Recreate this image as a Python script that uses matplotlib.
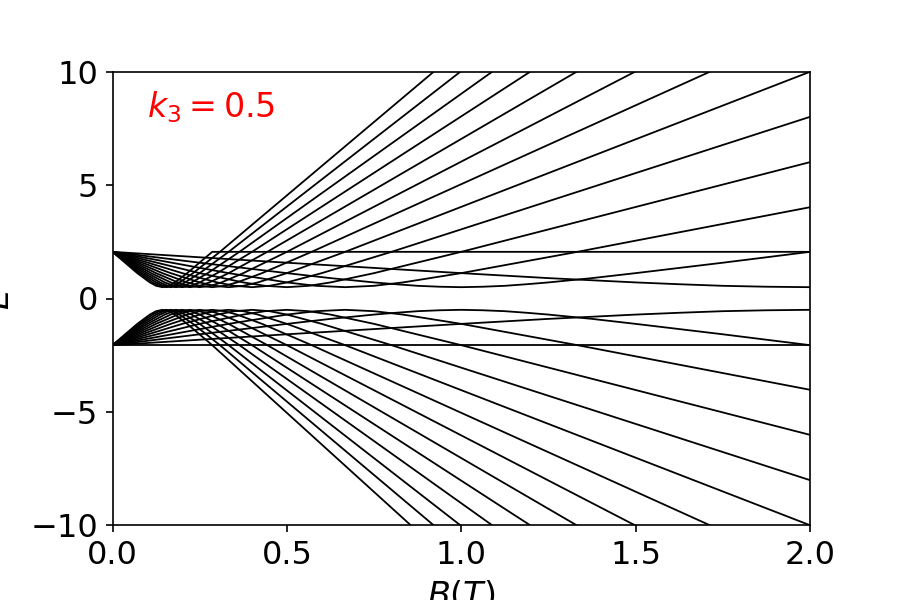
import matplotlib
matplotlib.use('Agg')
import matplotlib.pyplot as plt

# Landau-like levels: for each level n the upper (E>0)
# and lower (E<0) branch, given as (B, E) vertices.
levels = list(range(1, 15))

B_pts = {
    1:  [0.0, 0.25, 0.5, 0.75, 1.0, 1.25, 1.5, 1.625, 1.75, 1.875, 2.0],
    2:  [0.0, 0.25, 0.375, 0.5, 0.625, 0.75, 0.8125, 0.875, 0.9375, 1.0,
         1.0625, 1.125, 1.1875, 1.25, 1.375, 1.5, 1.625, 1.75, 2.0],
    3:  [0.0, 0.333, 0.5, 0.583, 0.667, 0.75, 0.833, 1.0, 1.333, 2.0],
    4:  [0.0, 0.25, 0.375, 0.4375, 0.5, 0.5625, 0.625, 0.75, 1.0, 2.0],
    5:  [0.0, 0.2, 0.3, 0.35, 0.4, 0.45, 0.5, 0.6, 0.8, 2.0],
    6:  [0.0, 0.167, 0.25, 0.292, 0.333, 0.375, 0.417, 0.5, 0.667, 2.0],
    7:  [0.0, 0.143, 0.214, 0.25, 0.286, 0.321, 0.357, 0.429, 0.571, 2.0],
    8:  [0.0, 0.125, 0.1875, 0.219, 0.25, 0.281, 0.3125, 0.375, 0.5, 2.0],
    9:  [0.0, 0.111, 0.167, 0.194, 0.222, 0.25, 0.278, 0.333, 0.444, 2.0],
    10: [0.0, 0.1, 0.15, 0.175, 0.2, 0.225, 0.25, 0.3, 0.4, 2.0],
    11: [0.0, 0.091, 0.136, 0.159, 0.182, 0.205, 0.227, 0.273, 0.364, 2.0],
    12: [0.0, 0.083, 0.125, 0.146, 0.167, 0.1875, 0.208, 0.25, 0.333, 2.0],
    13: [0.0, 0.077, 0.115, 0.135, 0.154, 0.173, 0.192, 0.231, 0.308, 2.0],
    14: [0.0, 0.071, 0.107, 0.125, 0.143, 0.161, 0.179, 0.214, 0.286, 2.0],
}

E_upper = {
    1:  [2.06, 1.82, 1.58, 1.35, 1.12, 0.90, 0.71, 0.63, 0.56, 0.52, 0.50],
    2:  [2.06, 1.58, 1.35, 1.12, 0.90, 0.71, 0.63, 0.56, 0.52, 0.50,
         0.52, 0.56, 0.63, 0.71, 0.90, 1.12, 1.35, 1.58, 2.06],
    3:  [2.06, 1.12, 0.71, 0.56, 0.50, 0.56, 0.71, 1.12, 2.06, 4.03],
    4:  [2.06, 1.12, 0.71, 0.56, 0.50, 0.56, 0.71, 1.12, 2.06, 6.02],
    5:  [2.06, 1.12, 0.71, 0.56, 0.50, 0.56, 0.71, 1.12, 2.06, 8.02],
    6:  [2.06, 1.12, 0.71, 0.56, 0.50, 0.56, 0.71, 1.12, 2.06, 10.01],
    7:  [2.06, 1.12, 0.71, 0.56, 0.50, 0.56, 0.71, 1.12, 2.06, 12.01],
    8:  [2.06, 1.12, 0.71, 0.56, 0.50, 0.56, 0.71, 1.12, 2.06, 14.01],
    9:  [2.06, 1.12, 0.71, 0.56, 0.50, 0.56, 0.71, 1.12, 2.06, 16.01],
    10: [2.06, 1.12, 0.71, 0.56, 0.50, 0.56, 0.71, 1.12, 2.06, 18.01],
    11: [2.06, 1.12, 0.71, 0.56, 0.50, 0.56, 0.71, 1.12, 2.06, 20.01],
    12: [2.06, 1.12, 0.71, 0.56, 0.50, 0.56, 0.71, 1.12, 2.06, 22.01],
    13: [2.06, 1.12, 0.71, 0.56, 0.50, 0.56, 0.71, 1.12, 2.06, 24.01],
    14: [2.06, 1.12, 0.71, 0.56, 0.50, 0.56, 0.71, 1.12, 2.06, 2.06],
}

E_lower = {
    1:  [-2.06, -1.82, -1.58, -1.35, -1.12, -0.90, -0.71, -0.63, -0.56, -0.52, -0.50],
    2:  [-2.06, -1.58, -1.35, -1.12, -0.90, -0.71, -0.63, -0.56, -0.52, -0.50,
         -0.52, -0.56, -0.63, -0.71, -0.90, -1.12, -1.35, -1.58, -2.06],
    3:  [-2.06, -1.12, -0.71, -0.56, -0.50, -0.56, -0.71, -1.12, -2.06, -4.03],
    4:  [-2.06, -1.12, -0.71, -0.56, -0.50, -0.56, -0.71, -1.12, -2.06, -6.02],
    5:  [-2.06, -1.12, -0.71, -0.56, -0.50, -0.56, -0.71, -1.12, -2.06, -8.02],
    6:  [-2.06, -1.12, -0.71, -0.56, -0.50, -0.56, -0.71, -1.12, -2.06, -10.01],
    7:  [-2.06, -1.12, -0.71, -0.56, -0.50, -0.56, -0.71, -1.12, -2.06, -12.01],
    8:  [-2.06, -1.12, -0.71, -0.56, -0.50, -0.56, -0.71, -1.12, -2.06, -14.01],
    9:  [-2.06, -1.12, -0.71, -0.56, -0.50, -0.56, -0.71, -1.12, -2.06, -16.01],
    10: [-2.06, -1.12, -0.71, -0.56, -0.50, -0.56, -0.71, -1.12, -2.06, -18.01],
    11: [-2.06, -1.12, -0.71, -0.56, -0.50, -0.56, -0.71, -1.12, -2.06, -20.01],
    12: [-2.06, -1.12, -0.71, -0.56, -0.50, -0.56, -0.71, -1.12, -2.06, -22.01],
    13: [-2.06, -1.12, -0.71, -0.56, -0.50, -0.56, -0.71, -1.12, -2.06, -24.01],
    14: [-2.06, -1.12, -0.71, -0.56, -0.50, -0.56, -0.71, -1.12, -2.06, -26.0],
}

# flat n=0 level
B_zero = [0.0, 2.0]
E_zero = [-2.06, -2.06]

k3 = 0.5

fig, ax = plt.subplots(figsize=(9, 6), dpi=100)
fig.subplots_adjust(left=0.125, right=0.9, top=0.88, bottom=0.125)

for n in levels:
    ax.plot(B_pts[n], E_upper[n], color='k', lw=1.3)
    ax.plot(B_pts[n], E_lower[n], color='k', lw=1.3)
ax.plot(B_zero, E_zero, color='k', lw=1.3)

ax.set_xlim(0, 2)
ax.set_ylim(-10, 10)
ax.set_xticks([0.0, 0.5, 1.0, 1.5, 2.0])
ax.set_yticks([-10, -5, 0, 5, 10])
ax.tick_params(labelsize=23, length=5.25, width=1.2, pad=5.25)
for sp in ax.spines.values():
    sp.set_linewidth(1.2)
# labels sit partly outside the canvas, as in the original figure
ax.set_xlabel('$B(T)$', fontsize=24, labelpad=6)
ax.set_ylabel('$E$', fontsize=24, labelpad=10)
ax.text(0.05, 0.9, '$k_3 = %s$' % k3, color='red', fontsize=24,
        transform=ax.transAxes)

fig.savefig('out.png', dpi=100)
